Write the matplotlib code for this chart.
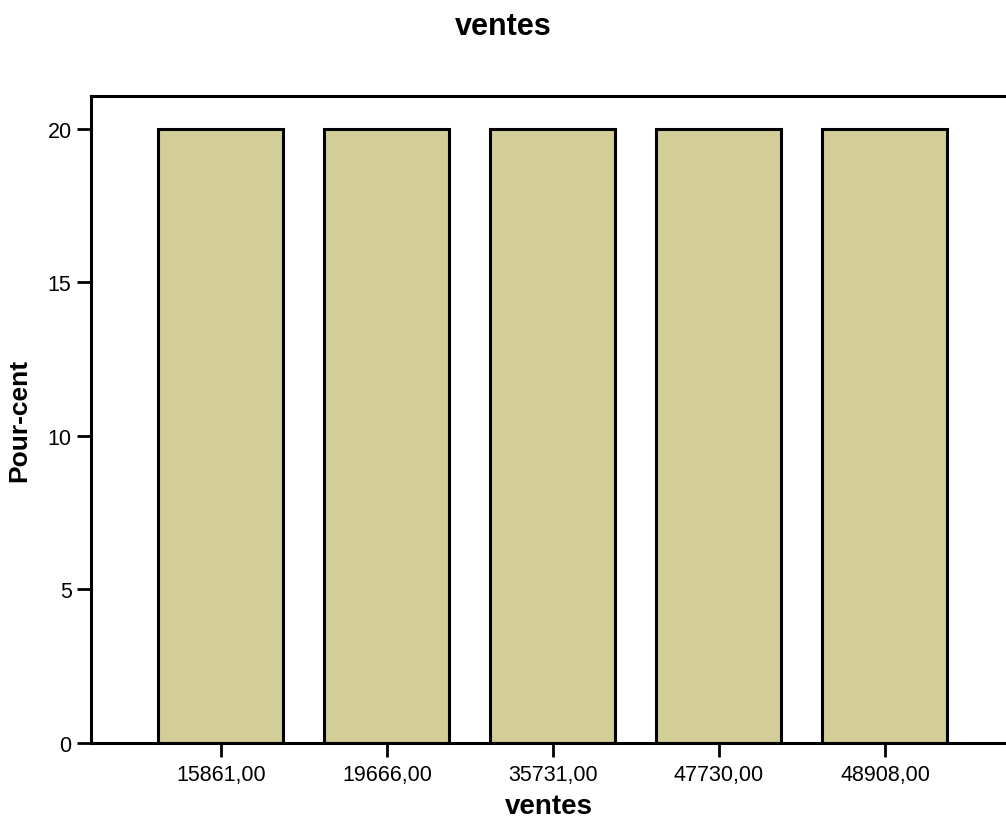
import matplotlib
matplotlib.use("Agg")
import matplotlib.pyplot as plt

categories = ["15861,00", "19666,00", "35731,00", "47730,00", "48908,00"]
percent = [20, 20, 20, 20, 20]
y_ticks = [0, 5, 10, 15, 20]

plt.rcParams['font.family'] = ['Liberation Sans', 'DejaVu Sans']

fig = plt.figure(figsize=(10.06, 8.20), dpi=100)
ax = fig.add_axes([91 / 1006, 76 / 820, 1 - 91 / 1006, (744 - 97) / 820])

x = list(range(len(categories)))
ax.bar(x, percent, width=0.753, color="#d3cd98", edgecolor="black", linewidth=2.2, zorder=2)

ax.set_xlim(-0.783, 4.729)
ax.set_ylim(0, 21.07)

ax.set_xticks(x)
ax.set_xticklabels(categories, fontsize=15.5)
ax.set_yticks(y_ticks)
ax.set_yticklabels([str(v) for v in y_ticks], fontsize=15.5)

ax.tick_params(axis="both", length=10, width=2, color="black", pad=4)
ax.tick_params(axis="x", pad=5)

for side in ("left", "bottom", "top"):
    ax.spines[side].set_linewidth(2.2)
ax.spines["right"].set_visible(False)

ax.set_xlabel("ventes", fontsize=20, fontweight="bold", labelpad=6)
ax.set_ylabel("Pour-cent", fontsize=19, fontweight="bold", labelpad=12)

fig.text(0.5, 1 - 27 / 820, "ventes", fontsize=22, fontweight="bold", ha="center", va="center")

fig.savefig("out.png", dpi=100)
